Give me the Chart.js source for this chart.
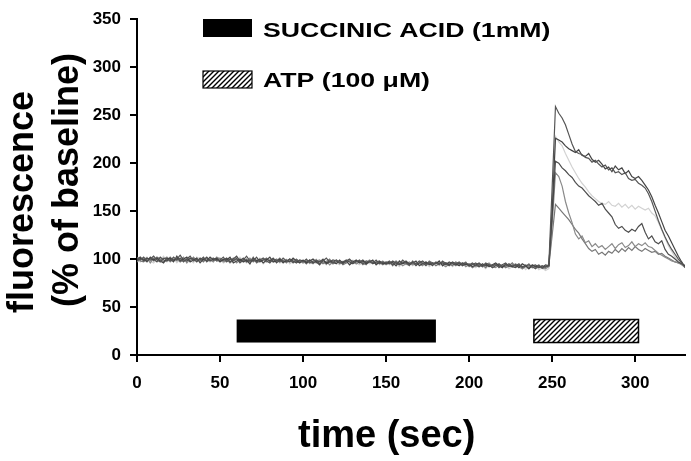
<!DOCTYPE html>
<html>
<head>
<meta charset="utf-8">
<script src="https://cdn.jsdelivr.net/npm/chart.js@4.4.1/dist/chart.umd.min.js"></script>
<style>
  html, body { margin: 0; padding: 0; background: #fff; }
  #wrap { width: 691px; height: 461px; }
</style>
</head>
<body>
<div id="wrap"><canvas id="chart" width="691" height="461"></canvas></div>
<script>
// sampling times (sec)
const time = [
  0, 2, 4, 6, 8, 10, 12, 14, 16, 18, 20, 22, 24, 26, 28, 30, 32, 34, 36, 38,
  40, 42, 44, 46, 48, 50, 52, 54, 56, 58, 60, 62, 64, 66, 68, 70, 72, 74, 76, 78,
  80, 82, 84, 86, 88, 90, 92, 94, 96, 98, 100, 102, 104, 106, 108, 110, 112, 114, 116, 118,
  120, 122, 124, 126, 128, 130, 132, 134, 136, 138, 140, 142, 144, 146, 148, 150, 152, 154, 156, 158,
  160, 162, 164, 166, 168, 170, 172, 174, 176, 178, 180, 182, 184, 186, 188, 190, 192, 194, 196, 198,
  200, 202, 204, 206, 208, 210, 212, 214, 216, 218, 220, 222, 224, 226, 228, 230, 232, 234, 236, 238,
  240, 242, 244, 246, 248, 250, 252, 254, 256, 258, 260, 262, 264, 266, 268, 270, 272, 274, 276, 278,
  280, 282, 284, 286, 288, 290, 292, 294, 296, 298, 300, 302, 304, 306, 308, 310, 312, 314, 316, 318,
  320, 322, 324, 326, 328, 330
];

// fluorescence, % of baseline, one array per cell
const cellA = [
  101, 99, 102, 98, 100, 103, 99, 97, 101, 100, 98, 102, 99, 101, 97, 100, 103, 98, 100, 99, 102, 97, 100, 101, 98,
  99, 102, 97, 100, 98, 101, 96, 99, 103, 98, 100, 97, 99, 101, 98, 96, 100, 99, 97, 101, 98, 100, 96, 99, 98,
  97, 100, 96, 98, 99, 95, 98, 101, 97, 96, 99, 97, 95, 98, 100, 96, 97, 99, 95, 98, 97, 96, 99, 95, 97,
  96, 98, 94, 97, 95, 99, 96, 94, 97, 95, 98, 96, 93, 97, 95, 96, 94, 98, 95, 93, 96, 95, 97, 94, 96,
  94, 96, 93, 95, 92, 96, 94, 93, 95, 91, 94, 96, 92, 94, 93, 95, 91, 93, 94, 92, 90, 93, 91, 92, 94,
  175, 259,
  252, 247, 240, 230, 220, 212, 210, 209, 206, 205,
  201, 203, 199, 196, 198, 193, 195, 190, 191, 188,
  190, 184, 182, 183, 179, 177, 174, 168, 160, 150,
  140, 131, 123, 116, 110, 105, 100, 96, 91
];
const cellB = [
  98, 101, 100, 97, 102, 99, 101, 98, 96, 101, 100, 97, 103, 98, 100, 102, 97, 99, 101, 96, 100, 98, 102, 99, 100,
  97, 100, 99, 102, 96, 98, 100, 97, 99, 95, 101, 98, 100, 96, 99, 102, 97, 98, 100, 96, 99, 97, 101, 98, 96,
  99, 96, 98, 100, 97, 94, 99, 96, 98, 97, 95, 99, 96, 98, 94, 97, 99, 96, 98, 95, 97, 99, 94, 97, 96,
  95, 97, 96, 93, 98, 95, 97, 94, 96, 98, 93, 95, 97, 94, 96, 95, 98, 93, 96, 94, 97, 95, 93, 96, 94,
  95, 92, 94, 96, 93, 95, 92, 94, 96, 93, 91, 95, 93, 92, 94, 91, 95, 93, 90, 94, 92, 93, 91, 94, 93,
  150, 226,
  224, 222, 218, 215, 213, 211, 214, 208, 207, 210,
  204, 201, 203, 199, 194, 196, 191, 197, 193, 195,
  189, 192, 186, 184, 186, 182, 177, 172, 165, 156,
  148, 139, 130, 124, 117, 110, 103, 97, 92
];
const cellC = [
  99, 97, 100, 102, 98, 96, 100, 99, 103, 97, 99, 101, 96, 100, 98, 101, 99, 96, 102, 100, 98, 99, 97, 101, 99,
  100, 96, 98, 101, 99, 97, 102, 98, 96, 100, 99, 97, 101, 95, 98, 100, 97, 99, 96, 98, 100, 95, 98, 97, 99,
  96, 98, 95, 97, 100, 96, 97, 94, 99, 98, 96, 94, 98, 97, 95, 99, 96, 94, 97, 98, 95, 96, 98, 94, 96,
  97, 94, 96, 95, 92, 97, 94, 96, 93, 95, 97, 94, 96, 92, 95, 97, 93, 95, 94, 96, 92, 95, 94, 93, 95,
  93, 95, 91, 94, 93, 90, 94, 92, 95, 93, 91, 94, 90, 92, 93, 91, 94, 89, 92, 91, 93, 89, 91, 88, 90,
  160, 228,
  222, 218, 210, 203, 196, 190, 184, 179, 175, 170,
  166, 163, 160, 158, 157, 160, 156, 155, 158, 154,
  157, 153, 156, 152, 155, 153, 151, 153, 148, 145,
  138, 130, 122, 114, 108, 102, 98, 94, 91
];
const cellD = [
  100, 102, 98, 101, 99, 100, 97, 102, 99, 98, 101, 99, 100, 104, 99, 98, 101, 100, 97, 101, 99, 102, 98, 100, 101,
  98, 99, 101, 97, 100, 103, 98, 101, 97, 99, 98, 102, 97, 99, 100, 98, 101, 96, 99, 98, 97, 100, 98, 96, 99,
  98, 97, 99, 96, 98, 97, 100, 95, 97, 99, 98, 96, 97, 99, 97, 95, 98, 97, 99, 96, 98, 95, 97, 98, 95,
  97, 95, 98, 96, 94, 96, 98, 95, 97, 93, 96, 98, 95, 96, 93, 97, 95, 96, 94, 97, 95, 94, 96, 93, 95,
  93, 94, 96, 92, 95, 93, 94, 91, 93, 95, 92, 93, 95, 92, 91, 94, 92, 93, 90, 93, 94, 91, 93, 92, 93,
  145, 202,
  200, 195, 192, 188, 185, 180, 176, 174, 170, 166,
  163, 160, 156, 158, 152, 148, 144, 136, 132, 134,
  130, 128, 131, 129, 134, 137, 128, 121, 124, 118,
  116, 119, 110, 105, 103, 100, 97, 95, 93
];
const cellE = [
  97, 100, 99, 101, 96, 101, 100, 98, 100, 102, 97, 100, 98, 99, 102, 96, 100, 101, 99, 98, 101, 100, 99, 97, 102,
  100, 97, 98, 99, 101, 96, 99, 100, 98, 101, 97, 99, 98, 100, 97, 99, 98, 100, 98, 99, 96, 99, 100, 97, 98,
  96, 99, 97, 95, 98, 99, 96, 98, 94, 97, 99, 95, 97, 96, 98, 97, 95, 98, 94, 96, 99, 97, 95, 96, 98,
  94, 96, 97, 95, 96, 93, 95, 97, 94, 96, 95, 93, 97, 95, 94, 96, 97, 94, 92, 95, 96, 93, 95, 96, 92,
  94, 91, 93, 94, 92, 94, 96, 92, 91, 94, 93, 92, 94, 93, 95, 92, 90, 94, 92, 93, 91, 92, 93, 90, 92,
  135, 190,
  186, 176, 160, 148, 138, 126, 121, 124, 117, 119,
  113, 116, 112, 114, 110, 113, 116, 111, 115, 117,
  112, 114, 118, 113, 116, 114, 117, 113, 112, 109,
  106, 104, 102, 100, 98, 97, 96, 94, 92
];
const cellF = [
  102, 98, 97, 100, 101, 98, 102, 100, 97, 99, 102, 98, 101, 97, 99, 100, 98, 102, 98, 100, 97, 101, 99, 98, 100,
  101, 98, 100, 96, 99, 100, 97, 98, 100, 97, 102, 96, 98, 99, 101, 97, 99, 98, 101, 97, 98, 99, 97, 100, 97,
  98, 95, 99, 97, 96, 98, 95, 97, 100, 95, 97, 98, 94, 96, 99, 98, 95, 97, 96, 94, 98, 97, 96, 97, 94,
  96, 97, 93, 98, 95, 97, 95, 93, 98, 94, 96, 95, 94, 98, 96, 93, 95, 97, 96, 95, 93, 97, 94, 95, 97,
  92, 95, 93, 92, 94, 91, 95, 93, 94, 92, 94, 91, 93, 96, 92, 93, 90, 92, 95, 91, 92, 94, 90, 91, 93,
  125, 157,
  153, 149, 145, 141, 136, 131, 127, 121, 116, 111,
  108, 110, 105, 107, 104, 108, 106, 110, 107, 111,
  108, 112, 109, 113, 110, 108, 111, 109, 107, 108,
  105, 106, 103, 101, 99, 97, 96, 95, 93
];

// drug application periods (sec) and the height band of the bars
const succinicPeriod = [60, 180];
const atpPeriod = [239, 302];
const periodBand = [13, 37];

const FONT = "'Liberation Sans', Arial, Helvetica, sans-serif";
Chart.defaults.font.family = FONT;
Chart.defaults.color = '#000';

function makeHatch() {
  const c = document.createElement('canvas');
  c.width = 5;
  c.height = 5;
  const g = c.getContext('2d');
  g.fillStyle = '#fff';
  g.fillRect(0, 0, 5, 5);
  g.strokeStyle = '#000';
  g.lineWidth = 1.4;
  g.beginPath();
  g.moveTo(0, 5); g.lineTo(5, 0);
  g.moveTo(-1, 1); g.lineTo(1, -1);
  g.moveTo(4, 6); g.lineTo(6, 4);
  g.stroke();
  return g.createPattern(c, 'repeat');
}

function stretchedText(ctx, text, x, y, size, sx) {
  ctx.save();
  ctx.translate(x, y);
  ctx.scale(sx, 1);
  ctx.font = 'bold ' + size + 'px ' + FONT;
  ctx.textAlign = 'left';
  ctx.textBaseline = 'alphabetic';
  ctx.fillStyle = '#000';
  ctx.fillText(text, 0, 0);
  ctx.restore();
}

const decorations = {
  id: 'decorations',
  beforeDatasetsDraw(chart) {
    const { ctx, scales: { x, y } } = chart;
    const top = y.getPixelForValue(periodBand[1]);
    const bottom = y.getPixelForValue(periodBand[0]);
    ctx.save();
    // succinic acid bar
    const s0 = x.getPixelForValue(succinicPeriod[0]);
    const s1 = x.getPixelForValue(succinicPeriod[1]);
    ctx.fillStyle = '#000';
    ctx.fillRect(s0, top, s1 - s0, bottom - top);
    // ATP bar
    const a0 = x.getPixelForValue(atpPeriod[0]);
    const a1 = x.getPixelForValue(atpPeriod[1]);
    ctx.fillStyle = makeHatch();
    ctx.fillRect(a0, top, a1 - a0, bottom - top);
    ctx.strokeStyle = '#000';
    ctx.lineWidth = 1.5;
    ctx.strokeRect(a0, top, a1 - a0, bottom - top);
    ctx.restore();
  },
  afterDraw(chart) {
    const ctx = chart.ctx;
    ctx.save();
    // legend
    ctx.fillStyle = '#000';
    ctx.fillRect(203, 19, 49, 18);
    ctx.fillStyle = makeHatch();
    ctx.fillRect(203, 71, 49, 17);
    ctx.strokeStyle = '#000';
    ctx.lineWidth = 1.2;
    ctx.strokeRect(203, 71, 49, 17);
    stretchedText(ctx, 'SUCCINIC ACID (1mM)', 263, 37, 21, 1.27);
    stretchedText(ctx, 'ATP (100 \u03bcM)', 263, 87, 21, 1.27);

    // axis titles
    ctx.fillStyle = '#000';
    ctx.font = 'bold 38px ' + FONT;
    ctx.textAlign = 'left';
    ctx.textBaseline = 'alphabetic';
    ctx.fillText('time (sec)', 298, 447);

    ctx.font = 'bold 36px ' + FONT;
    ctx.save();
    ctx.translate(33, 313);
    ctx.rotate(-Math.PI / 2);
    ctx.fillText('fluorescence', 0, 0);
    ctx.restore();
    ctx.save();
    ctx.translate(78, 307);
    ctx.rotate(-Math.PI / 2);
    ctx.fillText('(% of baseline)', 0, 0);
    ctx.restore();
    ctx.restore();
  }
};

function series(values, color) {
  return {
    data: time.map((t, i) => ({ x: t, y: values[i] })),
    borderColor: color,
    borderWidth: 1.2,
    pointRadius: 0,
    fill: false,
    tension: 0
  };
}

new Chart(document.getElementById('chart'), {
  type: 'line',
  data: {
    datasets: [
      series(cellA, '#555'),
      series(cellB, '#444'),
      series(cellD, '#4d4d4d'),
      series(cellE, '#8a8a8a'),
      series(cellF, '#777'),
      series(cellC, '#d2d2d2')
    ]
  },
  options: {
    responsive: false,
    animation: false,
    devicePixelRatio: 1,
    layout: { padding: { top: 18, right: 6, left: 0, bottom: 0 } },
    plugins: {
      legend: { display: false },
      tooltip: { enabled: false },
      title: { display: false }
    },
    scales: {
      x: {
        type: 'linear',
        min: 0,
        max: 330,
        ticks: {
          stepSize: 50,
          includeBounds: false,
          color: '#000',
          font: { size: 17, weight: 'bold' },
          padding: 11,
          maxRotation: 0
        },
        grid: { drawOnChartArea: false, drawTicks: true, tickLength: 7, color: '#000', lineWidth: 2 },
        border: { color: '#000', width: 2 },
        afterFit(scale) { scale.height = 106; }
      },
      y: {
        min: 0,
        max: 350,
        ticks: {
          stepSize: 50,
          color: '#000',
          font: { size: 17, weight: 'bold' },
          padding: 9
        },
        grid: { drawOnChartArea: false, drawTicks: true, tickLength: 7, color: '#000', lineWidth: 2 },
        border: { color: '#000', width: 2 },
        afterFit(scale) { scale.width = 137; }
      }
    }
  },
  plugins: [decorations]
});
</script>
</body>
</html>
